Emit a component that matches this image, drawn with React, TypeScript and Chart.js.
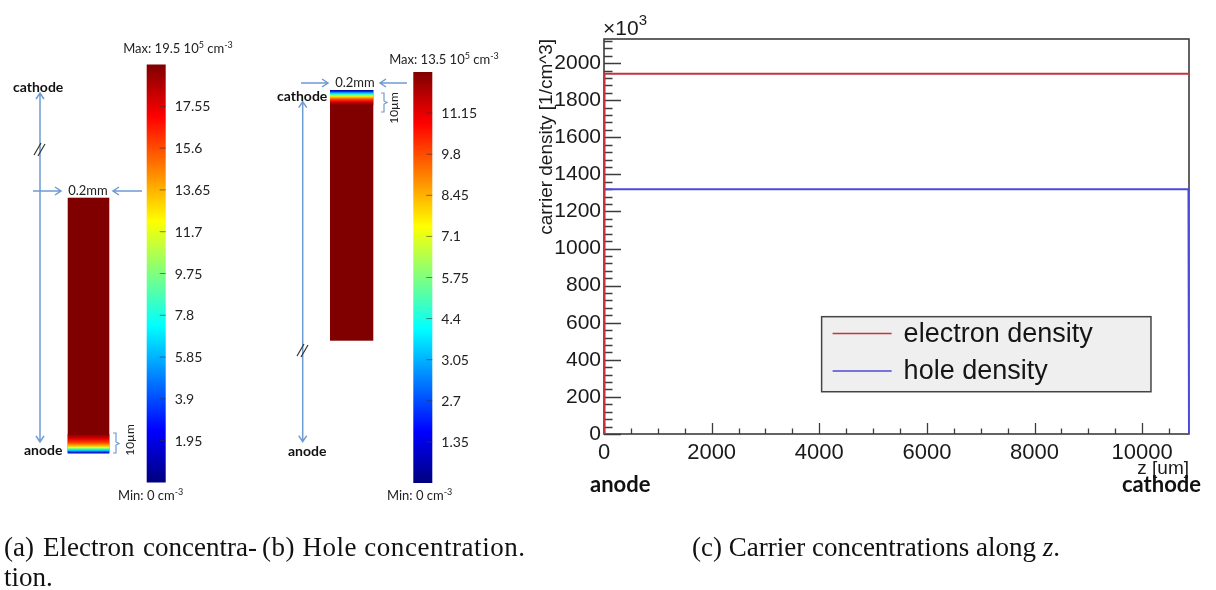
import React, { useEffect, useRef } from 'react';
import { Chart, registerables } from 'chart.js';

Chart.register(...registerables);

// Carrier density along the detector axis z [um], in units of 10^3 cm^-3
const zElectron = [0, 10, 10870];
const electronDensity = [0, 1942, 1942];
const zHole = [0, 10860, 10870];
const holeDensity = [1320, 1320, 0];

const seriesLabels = ['electron density', 'hole density'];
const seriesColors = ['#c23440', '#4b4bd6'];

const zRange = [0, 10870];
const densityRange = [0, 2130];
const zSteps = [2000, 500]; // labelled step, minor step
const densitySteps = [200, 40];

// Colour-bar labels in 10^5 cm^-3, listed bottom to top
const electronBarLabels = ['1.95', '3.9', '5.85', '7.8', '9.75', '11.7', '13.65', '15.6', '17.55'];
const holeBarLabels = ['1.35', '2.7', '3.05', '4.4', '5.75', '7.1', '8.45', '9.8', '11.15'];
const barMaxima = ['19.5', '13.5'];

const SANS = '"Liberation Sans", Arial, Helvetica, sans-serif';
const CAL = 'Lato, "Open Sans", sans-serif';
const SERIF = '"Liberation Serif", "Times New Roman", serif';
const TEXT = '#1a1a1a';
const ARROW = '#6e9bd2';

const jetStops: [number, string][] = [
  [0, '#00007f'],
  [0.125, '#0000ff'],
  [0.375, '#00ffff'],
  [0.625, '#ffff00'],
  [0.875, '#ff0000'],
  [1, '#7f0000'],
];

// evenly stepped tick values from the lower bound up to the upper bound
function stepTicks(min: number, max: number, step: number) {
  const out: { value: number }[] = [];
  for (let k = 0; min + k * step <= max + 1e-9; k++) out.push({ value: min + k * step });
  return out;
}

// inward ROOT-style tick marks plus the frame around the plot area
const axisFrame = {
  id: 'axisFrame',
  beforeDatasetsDraw(chart: any) {
    const { ctx, chartArea: a, scales } = chart;
    const xs = scales.x;
    const ys = scales.y;
    ctx.save();
    ctx.strokeStyle = '#3c3c3c';
    ctx.lineWidth = 1.6;
    ctx.strokeRect(a.left, a.top, a.right - a.left, a.bottom - a.top);
    ctx.lineWidth = 1.3;
    ctx.beginPath();
    for (const t of ys.ticks) {
      const v = Math.round(t.value);
      const py = Math.round(ys.getPixelForValue(v)) + 0.5;
      const len = v % densitySteps[0] === 0 ? 17 : 8.5;
      ctx.moveTo(a.left, py);
      ctx.lineTo(a.left + len, py);
    }
    for (const t of xs.ticks) {
      const v = Math.round(t.value);
      const px = Math.round(xs.getPixelForValue(v)) + 0.5;
      const len = v % zSteps[0] === 0 ? 11 : 5.5;
      ctx.moveTo(px, a.bottom);
      ctx.lineTo(px, a.bottom - len);
    }
    ctx.stroke();
    ctx.restore();
  },
};

// boxed legend sitting inside the lower right of the plot
const boxLegend = {
  id: 'boxLegend',
  afterDatasetsDraw(chart: any) {
    const { ctx, chartArea: a } = chart;
    const w = a.right - a.left;
    const h = a.bottom - a.top;
    const x0 = a.left + 0.372 * w;
    const x1 = a.left + 0.935 * w;
    const y0 = a.top + 0.703 * h;
    const y1 = a.top + 0.893 * h;
    ctx.save();
    ctx.fillStyle = '#efefef';
    ctx.fillRect(x0, y0, x1 - x0, y1 - y0);
    ctx.strokeStyle = '#454545';
    ctx.lineWidth = 1.5;
    ctx.strokeRect(x0, y0, x1 - x0, y1 - y0);
    const rowH = (y1 - y0) / 2;
    chart.data.datasets.forEach((ds: any, i: number) => {
      const cy = y0 + rowH * (i + 0.5) - 2;
      ctx.strokeStyle = ds.borderColor;
      ctx.lineWidth = 1.6;
      ctx.beginPath();
      ctx.moveTo(x0 + 11, cy);
      ctx.lineTo(x0 + 70, cy);
      ctx.stroke();
      ctx.fillStyle = '#151515';
      ctx.font = `27px ${SANS}`;
      ctx.textBaseline = 'middle';
      ctx.textAlign = 'left';
      ctx.fillText(ds.label, x0 + 82, cy + 1);
    });
    ctx.restore();
  },
};

function toPoints(xs: number[], ys: number[]) {
  return xs.map((x, i) => ({ x, y: ys[i] }));
}

function head(x: number, y: number, dir: string) {
  const s = 6;
  const w = 4;
  if (dir === 'up') return `M${x - w},${y + s} L${x},${y} L${x + w},${y + s}`;
  if (dir === 'down') return `M${x - w},${y - s} L${x},${y} L${x + w},${y - s}`;
  if (dir === 'right') return `M${x - s},${y - w} L${x},${y} L${x - s},${y + w}`;
  return `M${x + s},${y - w} L${x},${y} L${x + s},${y + w}`;
}

function ColourBar(props: { x: number; top: number; bottom: number; labels: string[]; max: string; maxX: number; maxY: number; minX: number }) {
  const { x, top, bottom, labels, max, maxX, maxY, minX } = props;
  const w = 19;
  const step = (bottom - top) / (labels.length + 1);
  return (
    <g>
      <rect x={x} y={top} width={w} height={bottom - top} fill="url(#jet)" />
      {labels.map((lab, i) => {
        const y = bottom - (i + 1) * step;
        return (
          <g key={lab + i}>
            <line x1={x + w - 6} x2={x + w} y1={y} y2={y} stroke="#333" strokeOpacity={0.6} strokeWidth={1} />
            <text x={x + w + 9} y={y + 5} fontSize={14} fill="#222" fontFamily={CAL}>{lab}</text>
          </g>
        );
      })}
      <text x={maxX} y={maxY} fontSize={13} fill="#222" fontFamily={CAL} textAnchor="middle">
        {'Max: ' + max + ' 10'}
        <tspan dy={-5} fontSize={9}>5</tspan>
        <tspan dy={5}>{' cm'}</tspan>
        <tspan dy={-5} fontSize={9}>-3</tspan>
      </text>
      <text x={minX} y={500} fontSize={13} fill="#222" fontFamily={CAL}>
        {'Min: 0 cm'}
        <tspan dy={-5} fontSize={9}>-3</tspan>
      </text>
    </g>
  );
}

function Panels() {
  return (
    <svg width={1216} height={590} style={{ position: 'absolute', left: 0, top: 0, pointerEvents: 'none' }}>
      <defs>
        <linearGradient id="jet" x1="0" y1="1" x2="0" y2="0">
          {jetStops.map(([o, c]) => (
            <stop key={o} offset={o} stopColor={c} />
          ))}
        </linearGradient>
        <linearGradient id="anodeBand" x1="0" y1="0" x2="0" y2="1">
          <stop offset="0" stopColor="#800000" />
          <stop offset="0.25" stopColor="#e00000" />
          <stop offset="0.45" stopColor="#ff4000" />
          <stop offset="0.6" stopColor="#ffb000" />
          <stop offset="0.7" stopColor="#e0ff20" />
          <stop offset="0.78" stopColor="#40ffb0" />
          <stop offset="0.86" stopColor="#00c0ff" />
          <stop offset="0.93" stopColor="#0030ff" />
          <stop offset="1" stopColor="#000090" />
        </linearGradient>
        <linearGradient id="cathodeBand" x1="0" y1="0" x2="0" y2="1">
          <stop offset="0" stopColor="#000090" />
          <stop offset="0.1" stopColor="#0030ff" />
          <stop offset="0.2" stopColor="#00c0ff" />
          <stop offset="0.3" stopColor="#40ffb0" />
          <stop offset="0.4" stopColor="#e0ff20" />
          <stop offset="0.5" stopColor="#ffb000" />
          <stop offset="0.62" stopColor="#ff4000" />
          <stop offset="0.78" stopColor="#e00000" />
          <stop offset="1" stopColor="#800000" />
        </linearGradient>
      </defs>

      {/* (a) electron concentration */}
      <g fill="none" stroke={ARROW} strokeWidth={1.5}>
        <path d={`M40,93 V442 ${head(40, 93, 'up')} ${head(40, 442, 'down')}`} />
        <path d={`M33,191 H61 ${head(61, 191, 'right')}`} />
        <path d={`M142,191 H113 ${head(113, 191, 'left')}`} />
        <path d="M113,433 H116 V442 L119,443.5 L116,445 V453 H113" strokeWidth={1.2} />
      </g>
      <path d="M34,155 L41,143 M38,156 L45,144" stroke="#333" strokeWidth={1.2} fill="none" />
      <text x={88} y={195} fontSize={13} fill="#222" fontFamily={CAL} textAnchor="middle">0.2mm</text>
      <rect x={67.7} y={197.7} width={41.6} height={255.6} fill="#800000" />
      <rect x={67.7} y={434} width={41.6} height={19.3} fill="url(#anodeBand)" />
      <text x={13} y={91.5} fontSize={14} fontWeight="bold" fill="#111" fontFamily={CAL}>cathode</text>
      <text x={24} y={455} fontSize={14} fontWeight="bold" fill="#111" fontFamily={CAL}>anode</text>
      <text x={0} y={0} fontSize={12} fill="#222" fontFamily={CAL} textAnchor="middle" transform="translate(134,440) rotate(-90)">10µm</text>
      <ColourBar x={146.7} top={64.5} bottom={482.5} labels={electronBarLabels} max={barMaxima[0]} maxX={178} maxY={53} minX={118} />

      {/* (b) hole concentration */}
      <g fill="none" stroke={ARROW} strokeWidth={1.5}>
        <path d={`M302.7,101.7 V441.7 ${head(302.7, 101.7, 'up')} ${head(302.7, 441.7, 'down')}`} />
        <path d={`M301,83 H328 ${head(328, 83, 'right')}`} />
        <path d={`M407,83 H380 ${head(380, 83, 'left')}`} />
        <path d="M381,93 H384 V101 L387,102.5 L384,104 V112 H381" strokeWidth={1.2} />
      </g>
      <path d="M297,356 L304,344 M301,357 L308,345" stroke="#333" strokeWidth={1.2} fill="none" />
      <text x={355} y={87} fontSize={13} fill="#222" fontFamily={CAL} textAnchor="middle">0.2mm</text>
      <rect x={330} y={90} width={43.3} height={250.7} fill="#800000" />
      <rect x={330} y={90} width={43.3} height={15} fill="url(#cathodeBand)" />
      <text x={277} y={100.5} fontSize={14} fontWeight="bold" fill="#111" fontFamily={CAL}>cathode</text>
      <text x={288} y={456} fontSize={14} fontWeight="bold" fill="#111" fontFamily={CAL}>anode</text>
      <text x={0} y={0} fontSize={12} fill="#222" fontFamily={CAL} textAnchor="middle" transform="translate(398,108) rotate(-90)">10µm</text>
      <ColourBar x={413.3} top={72} bottom={483} labels={holeBarLabels} max={barMaxima[1]} maxX={444} maxY={64} minX={387} />

      {/* (c) annotations around the density plot */}
      <text x={603} y={35} fontSize={21} fill={TEXT} fontFamily={SANS}>
        ×10
        <tspan dy={-10} fontSize={15}>3</tspan>
      </text>
      <text x={590} y={492} fontSize={22} fontWeight="bold" fill="#111" fontFamily={CAL}>anode</text>
      <text x={1122} y={492} fontSize={22} fontWeight="bold" fill="#111" fontFamily={CAL}>cathode</text>

      {/* captions */}
      <g fontFamily={SERIF} fontSize={27} fill="#111">
        <text x={4} y={556}>(a)</text>
        <text x={43} y={556}>Electron</text>
        <text x={257} y={556} textAnchor="end">concentra-</text>
        <text x={262} y={556} textLength={263} lengthAdjust="spacing">(b) Hole concentration.</text>
        <text x={4} y={586}>tion.</text>
        <text x={692} y={556}>
          (c) Carrier concentrations along <tspan fontStyle="italic">z</tspan>.
        </text>
      </g>
    </svg>
  );
}

export default function App() {
  const canvasRef = useRef<HTMLCanvasElement | null>(null);

  useEffect(() => {
    const canvas = canvasRef.current;
    if (!canvas) return;
    const chart = new Chart(canvas, {
      type: 'line',
      data: {
        datasets: [
          {
            label: seriesLabels[0],
            data: toPoints(zElectron, electronDensity),
            borderColor: seriesColors[0],
            backgroundColor: seriesColors[0],
            borderWidth: 2,
            pointRadius: 0,
            tension: 0,
            fill: false,
          },
          {
            label: seriesLabels[1],
            data: toPoints(zHole, holeDensity),
            borderColor: seriesColors[1],
            backgroundColor: seriesColors[1],
            borderWidth: 2,
            pointRadius: 0,
            tension: 0,
            fill: false,
          },
        ],
      },
      options: {
        animation: false,
        responsive: false,
        maintainAspectRatio: false,
        layout: { padding: { top: 39, right: 27, bottom: 0, left: 0 } },
        plugins: { legend: { display: false }, tooltip: { enabled: false } },
        scales: {
          x: {
            type: 'linear',
            min: zRange[0],
            max: zRange[1],
            bounds: 'data',
            grid: { display: false, drawTicks: false },
            border: { display: false },
            afterBuildTicks: (s: any) => {
              s.ticks = stepTicks(zRange[0], zRange[1], zSteps[1]);
            },
            ticks: {
              autoSkip: false,
              maxRotation: 0,
              minRotation: 0,
              padding: 6,
              color: TEXT,
              font: { family: SANS, size: 22 },
              callback: (v: any) => (Math.round(v) % zSteps[0] === 0 ? String(Math.round(v)) : ''),
            },
            title: {
              display: true,
              text: 'z [um]',
              align: 'end',
              color: TEXT,
              font: { family: SANS, size: 19 },
              padding: { top: 0, bottom: 30 },
            },
            afterFit: (s: any) => {
              s.height = 76;
            },
          },
          y: {
            type: 'linear',
            min: densityRange[0],
            max: densityRange[1],
            bounds: 'data',
            grid: { display: false, drawTicks: false },
            border: { display: false },
            afterBuildTicks: (s: any) => {
              s.ticks = stepTicks(densityRange[0], densityRange[1], densitySteps[1]);
            },
            ticks: {
              autoSkip: false,
              padding: 3,
              color: TEXT,
              font: { family: SANS, size: 21 },
              callback: (v: any) => (Math.round(v) % densitySteps[0] === 0 ? String(Math.round(v)) : ''),
            },
            title: {
              display: true,
              text: 'carrier density [1/cm^3]',
              align: 'end',
              color: TEXT,
              font: { family: SANS, size: 19 },
              padding: { top: 15, bottom: 0 },
            },
            afterFit: (s: any) => {
              s.width = 84;
            },
          },
        },
      } as any,
      plugins: [axisFrame, boxLegend],
    });
    return () => chart.destroy();
  }, []);

  return (
    <div style={{ position: 'absolute', left: 0, top: 0, width: 1216, height: 590, background: '#fff', overflow: 'hidden' }}>
      <canvas
        ref={canvasRef}
        width={696}
        height={510}
        style={{ position: 'absolute', left: 520, top: 0, width: 696, height: 510 }}
      />
      <Panels />
    </div>
  );
}
